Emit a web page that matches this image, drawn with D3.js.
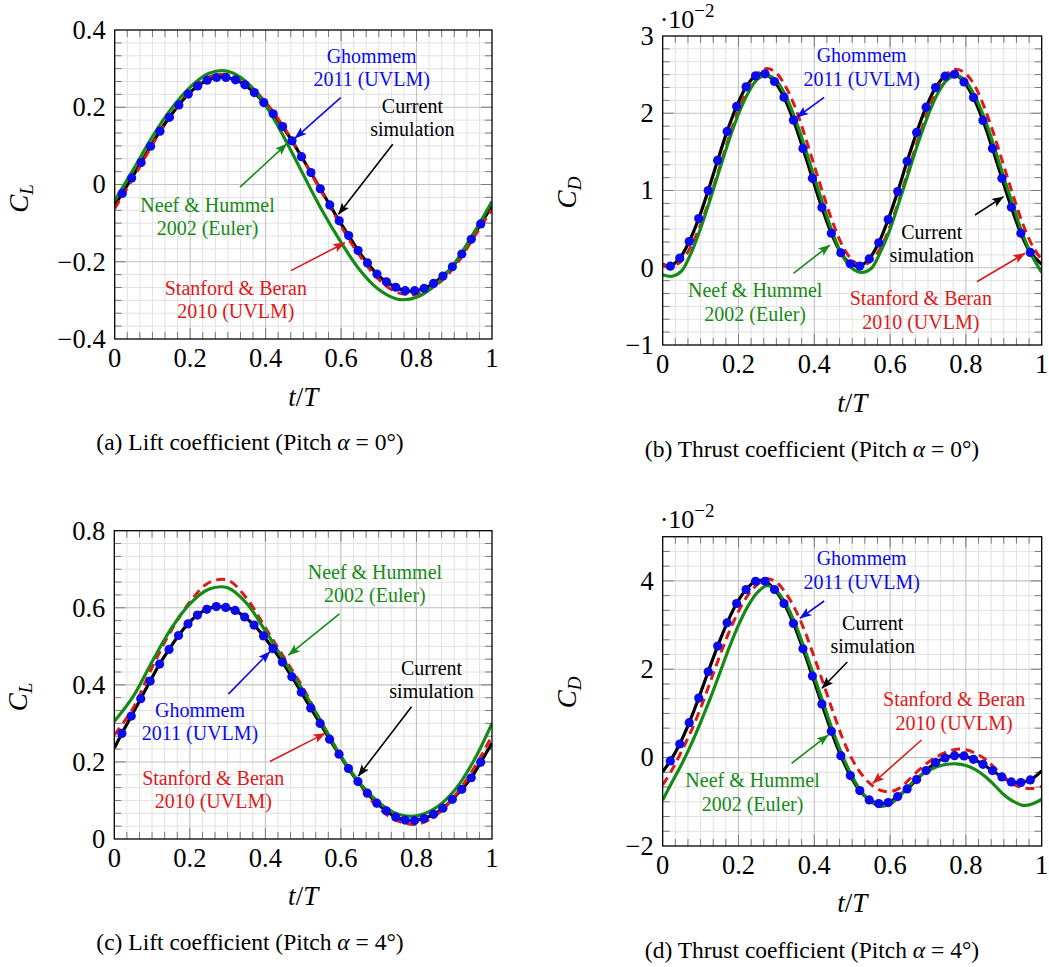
<!DOCTYPE html>
<html>
<head>
<meta charset="utf-8">
<script src="https://cdn.jsdelivr.net/npm/d3@7"></script>
<style>
body { margin: 0; background: #fff; }
svg text { font-family: "Liberation Serif", "DejaVu Serif", serif; fill: #000; }
</style>
</head>
<body>
<div id="fig"></div>
<script>
// sample times (t/T)
var tDots = [0.02,0.045,0.07,0.095,0.12,0.145,0.17,0.195,0.22,0.245,0.27,0.295,0.32,0.345,0.37,0.395,0.42,0.445,0.47,0.495,0.52,0.545,0.57,0.595,0.62,0.645,0.67,0.695,0.72,0.745,0.77,0.795,0.82,0.845,0.87,0.895,0.92,0.945,0.97];
var tCurrent = [0,0.02,0.045,0.07,0.095,0.12,0.145,0.17,0.195,0.22,0.245,0.27,0.295,0.32,0.345,0.37,0.395,0.42,0.445,0.47,0.495,0.52,0.545,0.57,0.595,0.62,0.645,0.67,0.695,0.72,0.745,0.77,0.795,0.82,0.845,0.87,0.895,0.92,0.945,0.97,1];
var tCoarse = [0,0.05,0.1,0.15,0.2,0.25,0.3,0.35,0.4,0.45,0.5,0.55,0.6,0.65,0.7,0.75,0.8,0.85,0.9,0.95,1];
var tFine = [0,0.025,0.05,0.075,0.1,0.125,0.15,0.175,0.2,0.225,0.25,0.275,0.3,0.325,0.35,0.375,0.4,0.425,0.45,0.475,0.5,0.525,0.55,0.575,0.6,0.625,0.65,0.675,0.7,0.725,0.75,0.775,0.8,0.825,0.85,0.875,0.9,0.925,0.95,0.975,1];

var xTicks = [0, 0.2, 0.4, 0.6, 0.8, 1];
var xTickLabels = ['0', '0.2', '0.4', '0.6', '0.8', '1'];

// (a) lift, pitch 0
var liftA_current = [-0.053,-0.023,0.017,0.057,0.099,0.138,0.174,0.206,0.234,0.255,0.270,0.277,0.277,0.271,0.258,0.238,0.212,0.183,0.150,0.113,0.072,0.031,-0.011,-0.053,-0.094,-0.132,-0.171,-0.203,-0.232,-0.252,-0.266,-0.275,-0.275,-0.269,-0.256,-0.237,-0.213,-0.180,-0.142,-0.102,-0.056];
var liftA_ghommem = [-0.023,0.017,0.057,0.099,0.138,0.174,0.206,0.234,0.255,0.270,0.277,0.277,0.271,0.258,0.238,0.212,0.183,0.150,0.113,0.072,0.031,-0.011,-0.053,-0.094,-0.132,-0.171,-0.203,-0.232,-0.252,-0.266,-0.275,-0.275,-0.269,-0.256,-0.237,-0.213,-0.180,-0.142,-0.102];
var liftA_stanford = [-0.062,0.018,0.103,0.180,0.242,0.278,0.284,0.262,0.213,0.146,0.064,-0.022,-0.108,-0.185,-0.246,-0.280,-0.284,-0.262,-0.214,-0.140,-0.064];
var liftA_neef = [-0.042,0.040,0.124,0.196,0.252,0.288,0.293,0.265,0.205,0.120,0.025,-0.068,-0.150,-0.222,-0.272,-0.297,-0.292,-0.260,-0.205,-0.128,-0.044];
var liftA_yTicks = [-0.4, -0.2, 0, 0.2, 0.4];

// (b) thrust, pitch 0 (x 10^-2)
var thrustB_current = [0.045,0.02,0.125,0.34,0.637,0.999,1.39,1.765,2.088,2.342,2.484,2.51,2.411,2.208,1.911,1.545,1.158,0.779,0.448,0.194,0.052,0.022,0.116,0.323,0.624,0.986,1.378,1.752,2.079,2.333,2.48,2.505,2.406,2.204,1.907,1.545,1.158,0.783,0.448,0.198,0.045];
var thrustB_ghommem = [0.02,0.125,0.34,0.637,0.999,1.39,1.765,2.088,2.342,2.484,2.51,2.411,2.208,1.911,1.545,1.158,0.779,0.448,0.194,0.052,0.022,0.116,0.323,0.624,0.986,1.378,1.752,2.079,2.333,2.48,2.505,2.406,2.204,1.907,1.545,1.158,0.783,0.448,0.198];
var thrustB_stanford = [0.04,0.02,0.09,0.28,0.56,0.91,1.30,1.69,2.04,2.33,2.51,2.58,2.52,2.34,2.07,1.71,1.32,0.93,0.57,0.28,0.10,0.03,0.09,0.26,0.54,0.90,1.29,1.68,2.03,2.32,2.51,2.57,2.51,2.34,2.06,1.71,1.32,0.93,0.57,0.29,0.10];
var thrustB_neef = [-0.09,-0.11,-0.04,0.19,0.51,0.88,1.27,1.65,1.99,2.26,2.44,2.49,2.42,2.22,1.92,1.56,1.17,0.79,0.43,0.15,-0.01,-0.06,-0.01,0.21,0.50,0.87,1.25,1.63,1.97,2.25,2.43,2.49,2.41,2.21,1.92,1.56,1.17,0.80,0.43,0.15,-0.06];
var thrustB_yTicks = [-1, 0, 1, 2, 3];

// (c) lift, pitch 4
var liftC_current = [0.236,0.274,0.319,0.364,0.410,0.454,0.492,0.528,0.558,0.581,0.596,0.603,0.601,0.593,0.576,0.555,0.527,0.494,0.459,0.421,0.381,0.340,0.300,0.259,0.220,0.183,0.149,0.119,0.093,0.073,0.057,0.049,0.048,0.053,0.064,0.080,0.103,0.129,0.159,0.199,0.249];
var liftC_ghommem = [0.274,0.319,0.364,0.410,0.454,0.492,0.528,0.558,0.581,0.596,0.603,0.601,0.593,0.576,0.555,0.527,0.494,0.459,0.421,0.381,0.340,0.300,0.259,0.220,0.183,0.149,0.119,0.093,0.073,0.057,0.049,0.048,0.053,0.064,0.080,0.103,0.129,0.159,0.199];
var liftC_stanford = [0.270,0.340,0.445,0.540,0.615,0.665,0.672,0.625,0.548,0.470,0.392,0.300,0.215,0.140,0.080,0.047,0.038,0.060,0.110,0.180,0.268];
var liftC_neef = [0.305,0.370,0.460,0.545,0.610,0.648,0.652,0.612,0.540,0.462,0.385,0.300,0.215,0.145,0.095,0.065,0.060,0.080,0.125,0.200,0.300];
var liftC_yTicks = [0, 0.2, 0.4, 0.6, 0.8];

// (d) thrust, pitch 4 (x 10^-2)
var thrustD_current = [-0.32,-0.075,0.309,0.791,1.348,1.944,2.524,3.051,3.488,3.804,3.992,3.992,3.804,3.488,3.036,2.463,1.846,1.213,0.595,0.045,-0.407,-0.746,-0.957,-1.040,-1.017,-0.881,-0.708,-0.497,-0.294,-0.113,-0.008,0.045,0.038,-0.038,-0.151,-0.294,-0.437,-0.550,-0.565,-0.505,-0.30];
var thrustD_ghommem = [-0.075,0.309,0.791,1.348,1.944,2.524,3.051,3.488,3.804,3.992,3.992,3.804,3.488,3.036,2.463,1.846,1.213,0.595,0.045,-0.407,-0.746,-0.957,-1.040,-1.017,-0.881,-0.708,-0.497,-0.294,-0.113,-0.008,0.045,0.038,-0.038,-0.151,-0.294,-0.437,-0.550,-0.565,-0.505];
var thrustD_stanford = [-0.62,-0.27,0.15,0.60,1.12,1.70,2.29,2.84,3.31,3.68,3.92,4.05,3.97,3.72,3.35,2.86,2.27,1.65,1.02,0.43,-0.04,-0.38,-0.61,-0.74,-0.77,-0.69,-0.50,-0.29,-0.11,0.03,0.13,0.19,0.18,0.10,-0.03,-0.22,-0.43,-0.60,-0.68,-0.70,-0.65];
var thrustD_neef = [-0.96,-0.55,-0.15,0.30,0.80,1.33,1.90,2.48,3.00,3.43,3.74,3.89,3.78,3.48,3.02,2.44,1.83,1.20,0.58,0.03,-0.43,-0.78,-1.00,-1.10,-1.05,-0.87,-0.64,-0.44,-0.30,-0.20,-0.15,-0.14,-0.18,-0.27,-0.42,-0.62,-0.84,-0.99,-1.08,-1.05,-0.94];
var thrustD_yTicks = [-2, 0, 2, 4];

var colBlack = '#000000', colRed = '#dc1a1a', colGreen = '#168a16', colBlue = '#0a0aec';

// annotations: first line centre (x, y), arrow from (x0,y0) to (x1,y1), data units
var notesA = [
	{ lines: ['Ghommem', '2011 (UVLM)'], color: colBlue, at: [0.681, 0.329], arrow: [0.599, 0.225, 0.478, 0.120] },
	{ lines: ['Current', 'simulation'], color: colBlack, at: [0.789, 0.200], arrow: [0.737, 0.104, 0.593, -0.077] },
	{ lines: ['Neef & Hummel', '2002 (Euler)'], color: colGreen, at: [0.246, -0.056], arrow: [0.332, -0.007, 0.456, 0.105] },
	{ lines: ['Stanford & Beran', '2010 (UVLM)'], color: colRed, at: [0.321, -0.271], arrow: [0.467, -0.223, 0.610, -0.151] }
];
var notesB = [
	{ lines: ['Ghommem', '2011 (UVLM)'], color: colBlue, at: [0.525, 2.732], arrow: [0.426, 2.206, 0.354, 1.948] },
	{ lines: ['Current', 'simulation'], color: colBlack, at: [0.710, 0.446], arrow: [0.824, 0.683, 0.899, 0.920] },
	{ lines: ['Neef & Hummel', '2002 (Euler)'], color: colGreen, at: [0.244, -0.310], arrow: [0.345, -0.072, 0.441, 0.294] },
	{ lines: ['Stanford & Beran', '2010 (UVLM)'], color: colRed, at: [0.681, -0.417], arrow: [0.829, -0.181, 0.956, 0.187] }
];
var notesC = [
	{ lines: ['Neef & Hummel', '2002 (Euler)'], color: colGreen, at: [0.690, 0.689], arrow: [0.596, 0.584, 0.461, 0.477] },
	{ lines: ['Ghommem', '2011 (UVLM)'], color: colBlue, at: [0.227, 0.332], arrow: [0.302, 0.376, 0.412, 0.486] },
	{ lines: ['Current', 'simulation'], color: colBlack, at: [0.840, 0.440], arrow: [0.787, 0.343, 0.646, 0.163] },
	{ lines: ['Stanford & Beran', '2010 (UVLM)'], color: colRed, at: [0.262, 0.155], arrow: [0.412, 0.201, 0.558, 0.274] }
];
var notesD = [
	{ lines: ['Ghommem', '2011 (UVLM)'], color: colBlue, at: [0.525, 4.473], arrow: [0.426, 3.545, 0.362, 3.153] },
	{ lines: ['Current', 'simulation'], color: colBlack, at: [0.554, 3.018], arrow: [0.487, 2.164, 0.420, 1.569] },
	{ lines: ['Stanford & Beran', '2010 (UVLM)'], color: colRed, at: [0.769, 1.289], arrow: [0.683, 0.399, 0.554, -0.581] },
	{ lines: ['Neef & Hummel', '2002 (Euler)'], color: colGreen, at: [0.237, -0.544], arrow: [0.340, -0.128, 0.437, 0.513] }
];

var panels = [
	{ left: 114.7, top: 30, width: 377.3, height: 309, yDomain: [-0.4, 0.4], yTicks: liftA_yTicks, fmt: d3.format('.1f'),
	  sub: 'L', ylabShift: 14, exp: false, caption: ['(a) Lift coefficient (Pitch ', ' = 0°)'], capX: 250, capY: 450,
	  current: liftA_current, ghommem: liftA_ghommem, tRef: tCoarse, stanford: liftA_stanford, neef: liftA_neef, notes: notesA },
	{ left: 662.7, top: 36, width: 379, height: 309, yDomain: [-1, 3], yTicks: thrustB_yTicks, fmt: d3.format('d'),
	  sub: 'D', ylabShift: 2, exp: true, caption: ['(b) Thrust coefficient (Pitch ', ' = 0°)'], capX: 812, capY: 457,
	  current: thrustB_current, ghommem: thrustB_ghommem, tRef: tFine, stanford: thrustB_stanford, neef: thrustB_neef, notes: notesB },
	{ left: 114.3, top: 530.7, width: 377.7, height: 308.3, yDomain: [0, 0.8], yTicks: liftC_yTicks, fmt: d3.format('.1f'),
	  sub: 'L', ylabShift: 12, exp: false, caption: ['(c) Lift coefficient (Pitch ', ' = 4°)'], capX: 250, capY: 950,
	  current: liftC_current, ghommem: liftC_ghommem, tRef: tCoarse, stanford: liftC_stanford, neef: liftC_neef, notes: notesC },
	{ left: 662.7, top: 536.7, width: 379, height: 309.3, yDomain: [-2, 5], yTicks: thrustD_yTicks, fmt: d3.format('d'),
	  sub: 'D', ylabShift: 1, exp: true, caption: ['(d) Thrust coefficient (Pitch ', ' = 4°)'], capX: 812, capY: 958,
	  current: thrustD_current, ghommem: thrustD_ghommem, tRef: tFine, stanford: thrustD_stanford, neef: thrustD_neef, notes: notesD }
];

var svg = d3.select('#fig').append('svg')
	.attr('width', 1049)
	.attr('height', 967);
var defs = svg.append('defs');

[colBlack, colRed, colGreen, colBlue].forEach(function (c, i) {
	defs.append('marker')
		.attr('id', 'arrow' + i)
		.attr('viewBox', '0 -5 12 10')
		.attr('refX', 11.5).attr('refY', 0)
		.attr('markerWidth', 12).attr('markerHeight', 10)
		.attr('markerUnits', 'userSpaceOnUse')
		.attr('orient', 'auto')
		.append('path')
		.attr('d', 'M0,-4.5L12,0L0,4.5L2.5,0Z')
		.attr('fill', c);
});
var markerOf = function (c) { return 'url(#arrow' + [colBlack, colRed, colGreen, colBlue].indexOf(c) + ')'; };

// minor ticks: 5 between majors, like pgfplots minor tick num=5
function minorTicks(majors, domain) {
	var step = (majors[1] - majors[0]) / 6, out = [];
	var n = Math.round((domain[1] - domain[0]) / step);
	for (var k = 1; k < n; k++) {
		var v = domain[0] + k * step;
		var isMajor = majors.some(function (m) { return Math.abs(m - v) < step / 10; });
		if (!isMajor) out.push(v);
	}
	return out;
}

function minusFmt(f) { return function (d) { return f(d).replace('-', '\u2212'); }; }

function drawPanel(p, idx) {
	var x = d3.scaleLinear().domain([0, 1]).range([0, p.width]);
	var y = d3.scaleLinear().domain(p.yDomain).range([p.height, 0]);
	var g = svg.append('g').attr('transform', 'translate(' + p.left + ',' + p.top + ')');

	defs.append('clipPath').attr('id', 'clip' + idx)
		.append('rect').attr('width', p.width).attr('height', p.height);

	var xMinor = minorTicks(xTicks, [0, 1]);
	var yMinor = minorTicks(p.yTicks, p.yDomain);
	var yMajor = p.yTicks.filter(function (v) { return v > p.yDomain[0] && v < p.yDomain[1]; });
	var xMajor = xTicks.filter(function (v) { return v > 0 && v < 1; });

	//grid
	var grid = g.append('g');
	grid.selectAll('.xmin').data(xMinor).enter().append('line')
		.attr('x1', x).attr('x2', x).attr('y1', 0).attr('y2', p.height)
		.attr('stroke', '#e2e2e2').attr('stroke-width', 1);
	grid.selectAll('.ymin').data(yMinor).enter().append('line')
		.attr('y1', y).attr('y2', y).attr('x1', 0).attr('x2', p.width)
		.attr('stroke', '#e2e2e2').attr('stroke-width', 1);
	grid.selectAll('.xmaj').data(xMajor).enter().append('line')
		.attr('x1', x).attr('x2', x).attr('y1', 0).attr('y2', p.height)
		.attr('stroke', '#c2c2c2').attr('stroke-width', 1.1);
	grid.selectAll('.ymaj').data(yMajor).enter().append('line')
		.attr('y1', y).attr('y2', y).attr('x1', 0).attr('x2', p.width)
		.attr('stroke', '#c2c2c2').attr('stroke-width', 1.1);

	//ticks inside on all four sides
	var ticks = g.append('g').attr('stroke', '#7a7a7a').attr('stroke-width', 1);
	[[xMinor, 7], [xMajor, 11]].forEach(function (s) {
		ticks.selectAll(null).data(s[0]).enter().append('line')
			.attr('x1', x).attr('x2', x).attr('y1', p.height).attr('y2', p.height - s[1]);
		ticks.selectAll(null).data(s[0]).enter().append('line')
			.attr('x1', x).attr('x2', x).attr('y1', 0).attr('y2', s[1]);
	});
	[[yMinor, 7], [yMajor, 11]].forEach(function (s) {
		ticks.selectAll(null).data(s[0]).enter().append('line')
			.attr('y1', y).attr('y2', y).attr('x1', 0).attr('x2', s[1]);
		ticks.selectAll(null).data(s[0]).enter().append('line')
			.attr('y1', y).attr('y2', y).attr('x1', p.width).attr('x2', p.width - s[1]);
	});

	//series
	var line = d3.line()
		.x(function (d) { return x(d[0]); })
		.y(function (d) { return y(d[1]); })
		.curve(d3.curveCatmullRom.alpha(0.5));
	var plot = g.append('g').attr('clip-path', 'url(#clip' + idx + ')');
	plot.append('path').datum(d3.zip(tCurrent, p.current))
		.attr('d', line).attr('fill', 'none')
		.attr('stroke', colBlack).attr('stroke-width', 3.2);
	plot.append('path').datum(d3.zip(p.tRef, p.stanford))
		.attr('d', line).attr('fill', 'none')
		.attr('stroke', colRed).attr('stroke-width', 3)
		.attr('stroke-dasharray', '9,5.5');
	plot.append('path').datum(d3.zip(p.tRef, p.neef))
		.attr('d', line).attr('fill', 'none')
		.attr('stroke', colGreen).attr('stroke-width', 3.2);
	plot.selectAll('.dot').data(d3.zip(tDots, p.ghommem)).enter().append('circle')
		.attr('cx', function (d) { return x(d[0]); })
		.attr('cy', function (d) { return y(d[1]); })
		.attr('r', 4.6)
		.attr('fill', colBlue);

	//frame
	g.append('rect').attr('width', p.width).attr('height', p.height)
		.attr('fill', 'none').attr('stroke', '#000').attr('stroke-width', 1.3);

	//tick labels
	g.selectAll('.xlab').data(xTicks).enter().append('text')
		.attr('x', x).attr('y', p.height + 28)
		.attr('text-anchor', 'middle').style('font-size', '26.5px')
		.text(function (d, i) { return xTickLabels[i]; });
	var yf = minusFmt(p.fmt);
	g.selectAll('.ylab').data(p.yTicks).enter().append('text')
		.attr('x', -9).attr('y', function (d) { return y(d) + 8.8; })
		.attr('text-anchor', 'end').style('font-size', '26.5px')
		.text(function (d) { return d === 0 ? '0' : yf(d); });

	//axis titles
	var xt = g.append('text')
		.attr('x', p.width / 2).attr('y', p.height + 66.5)
		.attr('text-anchor', 'middle').style('font-size', '27px');
	xt.append('tspan').style('font-style', 'italic').text('t');
	xt.append('tspan').text('/');
	xt.append('tspan').style('font-style', 'italic').text('T');

	var yt = g.append('text')
		.attr('transform', 'translate(-87,' + (p.height / 2 + p.ylabShift) + ') rotate(-90)')
		.attr('text-anchor', 'middle').style('font-size', '27px');
	yt.append('tspan').style('font-style', 'italic').text('C');
	yt.append('tspan').style('font-style', 'italic').style('font-size', '19px')
		.attr('dy', 5).text(p.sub);

	if (p.exp) {
		var ex = g.append('text').attr('x', -3).attr('y', -8.5).style('font-size', '26px');
		ex.append('tspan').text('\u00b710');
		ex.append('tspan').style('font-size', '19px').attr('dy', -11).text('\u22122');
	}

	//annotations: one text per line, spaced so the lines do not touch
	p.notes.forEach(function (n) {
		g.append('line')
			.attr('x1', x(n.arrow[0])).attr('y1', y(n.arrow[1]))
			.attr('x2', x(n.arrow[2])).attr('y2', y(n.arrow[3]))
			.attr('stroke', n.color).attr('stroke-width', 1.6)
			.attr('marker-end', markerOf(n.color));
		n.lines.forEach(function (s, i) {
			g.append('text')
				.attr('x', x(n.at[0]))
				.attr('y', y(n.at[1]) + 5.5 + i * 23.5)
				.attr('text-anchor', 'middle').style('font-size', '20px')
				.style('fill', n.color)
				.text(s);
		});
	});

	//caption
	var cap = svg.append('text')
		.attr('x', p.capX).attr('y', p.capY)
		.attr('text-anchor', 'middle').style('font-size', '23.5px');
	cap.append('tspan').text(p.caption[0]);
	cap.append('tspan').style('font-style', 'italic').text('\u03b1');
	cap.append('tspan').text(p.caption[1]);
}

panels.forEach(drawPanel);
</script>
</body>
</html>
